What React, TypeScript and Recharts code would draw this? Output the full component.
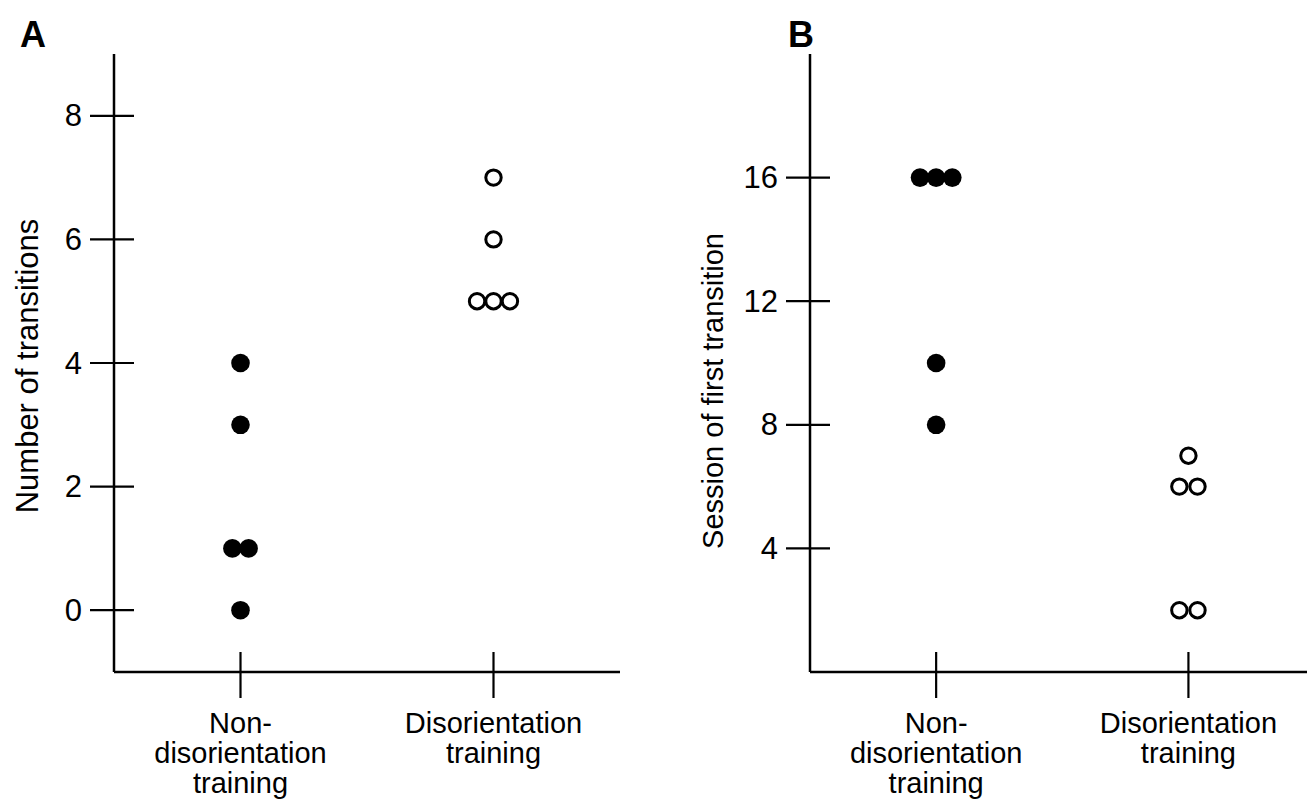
import React from "react";
import { ScatterChart, Scatter, XAxis, YAxis, Label } from "recharts";

const FONT = "'Liberation Sans', Arial, Helvetica, sans-serif";

// group labels, one line per entry
const groupLines: Record<number, string[]> = {
  1: ["Non-", "disorientation", "training"],
  2: ["Disorientation", "training"],
};

// Panel A: number of transitions (x = group position incl. side-by-side offset)
const transNonX = [1, 1, 0.968, 1.032, 1];
const transNonY = [4, 3, 1, 1, 0];
const transDisX = [2, 2, 1.935, 2, 2.065];
const transDisY = [7, 6, 5, 5, 5];
const transTicks = [0, 2, 4, 6, 8];

// Panel B: session of first transition
const sessNonX = [0.936, 1, 1.064, 1, 1];
const sessNonY = [16, 16, 16, 10, 8];
const sessDisX = [2, 1.964, 2.036, 1.964, 2.036];
const sessDisY = [7, 6, 6, 2, 2];
const sessTicks = [4, 8, 12, 16];

const toPoints = (xs: number[], ys: number[]) => xs.map((x, i) => ({ x, y: ys[i] }));

const Filled = (p: any) => <circle cx={p.cx} cy={p.cy} r={9.3} fill="#000" />;
const Open = (p: any) => <circle cx={p.cx} cy={p.cy} r={7.7} fill="#fff" stroke="#000" strokeWidth={3} />;

const YTick = (p: any) => (
  <g>
    <line x1={p.x + 8} x2={p.x + 52} y1={p.y} y2={p.y} stroke="#000" strokeWidth={2.2} />
    <text x={p.x} y={p.y} textAnchor="end" dominantBaseline="central" fontSize={31} fontFamily={FONT} fill="#000">
      {p.payload.value}
    </text>
  </g>
);

const XTick = (p: any) => {
  const lines = groupLines[p.payload.value] || [];
  return (
    <g>
      <line x1={p.x} x2={p.x} y1={p.y - 56} y2={p.y - 10} stroke="#000" strokeWidth={2.2} />
      <text textAnchor="middle" fontSize={29} fontFamily={FONT} fill="#000">
        {lines.map((l, i) => (
          <tspan key={i} x={p.x} y={p.y + 25 + i * 30}>
            {l}
          </tspan>
        ))}
      </text>
    </g>
  );
};

const yTitle = (text: string, gap: number, shift: number, size: number) => (props: any) => {
  const vb = props.viewBox;
  const cx = vb.x + vb.width - gap;
  const cy = vb.y + vb.height / 2 + shift;
  return (
    <text
      x={cx}
      y={cy}
      transform={`rotate(-90, ${cx}, ${cy})`}
      textAnchor="middle"
      dominantBaseline="central"
      fontSize={size}
      fontFamily={FONT}
      fill="#000"
    >
      {text}
    </text>
  );
};

type PanelProps = {
  left: number;
  width: number;
  marginLeft: number;
  marginRight: number;
  xDomain: [number, number];
  yDomain: [number, number];
  yTicks: number[];
  title: string;
  titleGap: number;
  titleShift: number;
  titleSize: number;
  filled: { x: number; y: number }[];
  open: { x: number; y: number }[];
};

function Panel(props: PanelProps) {
  return (
    <div style={{ position: "absolute", left: props.left, top: 0 }}>
      <ScatterChart
        width={props.width}
        height={802}
        margin={{ top: 54, right: props.marginRight, bottom: 30, left: props.marginLeft }}
      >
        <XAxis
          type="number"
          dataKey="x"
          domain={props.xDomain}
          ticks={[1, 2]}
          interval={0}
          height={100}
          tickSize={26}
          tickMargin={10}
          tickLine={false}
          axisLine={{ stroke: "#000", strokeWidth: 2.5 }}
          tick={XTick}
        />
        <YAxis
          type="number"
          dataKey="y"
          domain={props.yDomain}
          ticks={props.yTicks}
          interval={0}
          width={60}
          tickSize={24}
          tickMargin={8}
          tickLine={false}
          axisLine={{ stroke: "#000", strokeWidth: 2.5 }}
          tick={YTick}
        >
          <Label content={yTitle(props.title, props.titleGap, props.titleShift, props.titleSize)} />
        </YAxis>
        <Scatter data={props.filled} shape={Filled} isAnimationActive={false} />
        <Scatter data={props.open} shape={Open} isAnimationActive={false} />
      </ScatterChart>
    </div>
  );
}

export default function App() {
  return (
    <div style={{ position: "absolute", left: 0, top: 0, width: 1309, height: 802, background: "#fff", overflow: "hidden" }}>
      <Panel
        left={0}
        width={660}
        marginLeft={54}
        marginRight={40}
        xDomain={[0.5, 2.5]}
        yDomain={[-1, 9]}
        yTicks={transTicks}
        title="Number of transitions"
        titleGap={87}
        titleShift={3}
        titleSize={31}
        filled={toPoints(transNonX, transNonY)}
        open={toPoints(transDisX, transDisY)}
      />
      <Panel
        left={690}
        width={619}
        marginLeft={60}
        marginRight={2}
        xDomain={[0.5, 2.47]}
        yDomain={[0, 20]}
        yTicks={sessTicks}
        title="Session of first transition"
        titleGap={97}
        titleShift={28}
        titleSize={29}
        filled={toPoints(sessNonX, sessNonY)}
        open={toPoints(sessDisX, sessDisY)}
      />
      <svg width={1309} height={60} style={{ position: "absolute", left: 0, top: 0 }}>
        <text x={20} y={47} fontSize={36} fontWeight="bold" fontFamily={FONT} fill="#000">
          A
        </text>
        <text x={788} y={47} fontSize={36} fontWeight="bold" fontFamily={FONT} fill="#000">
          B
        </text>
      </svg>
    </div>
  );
}
